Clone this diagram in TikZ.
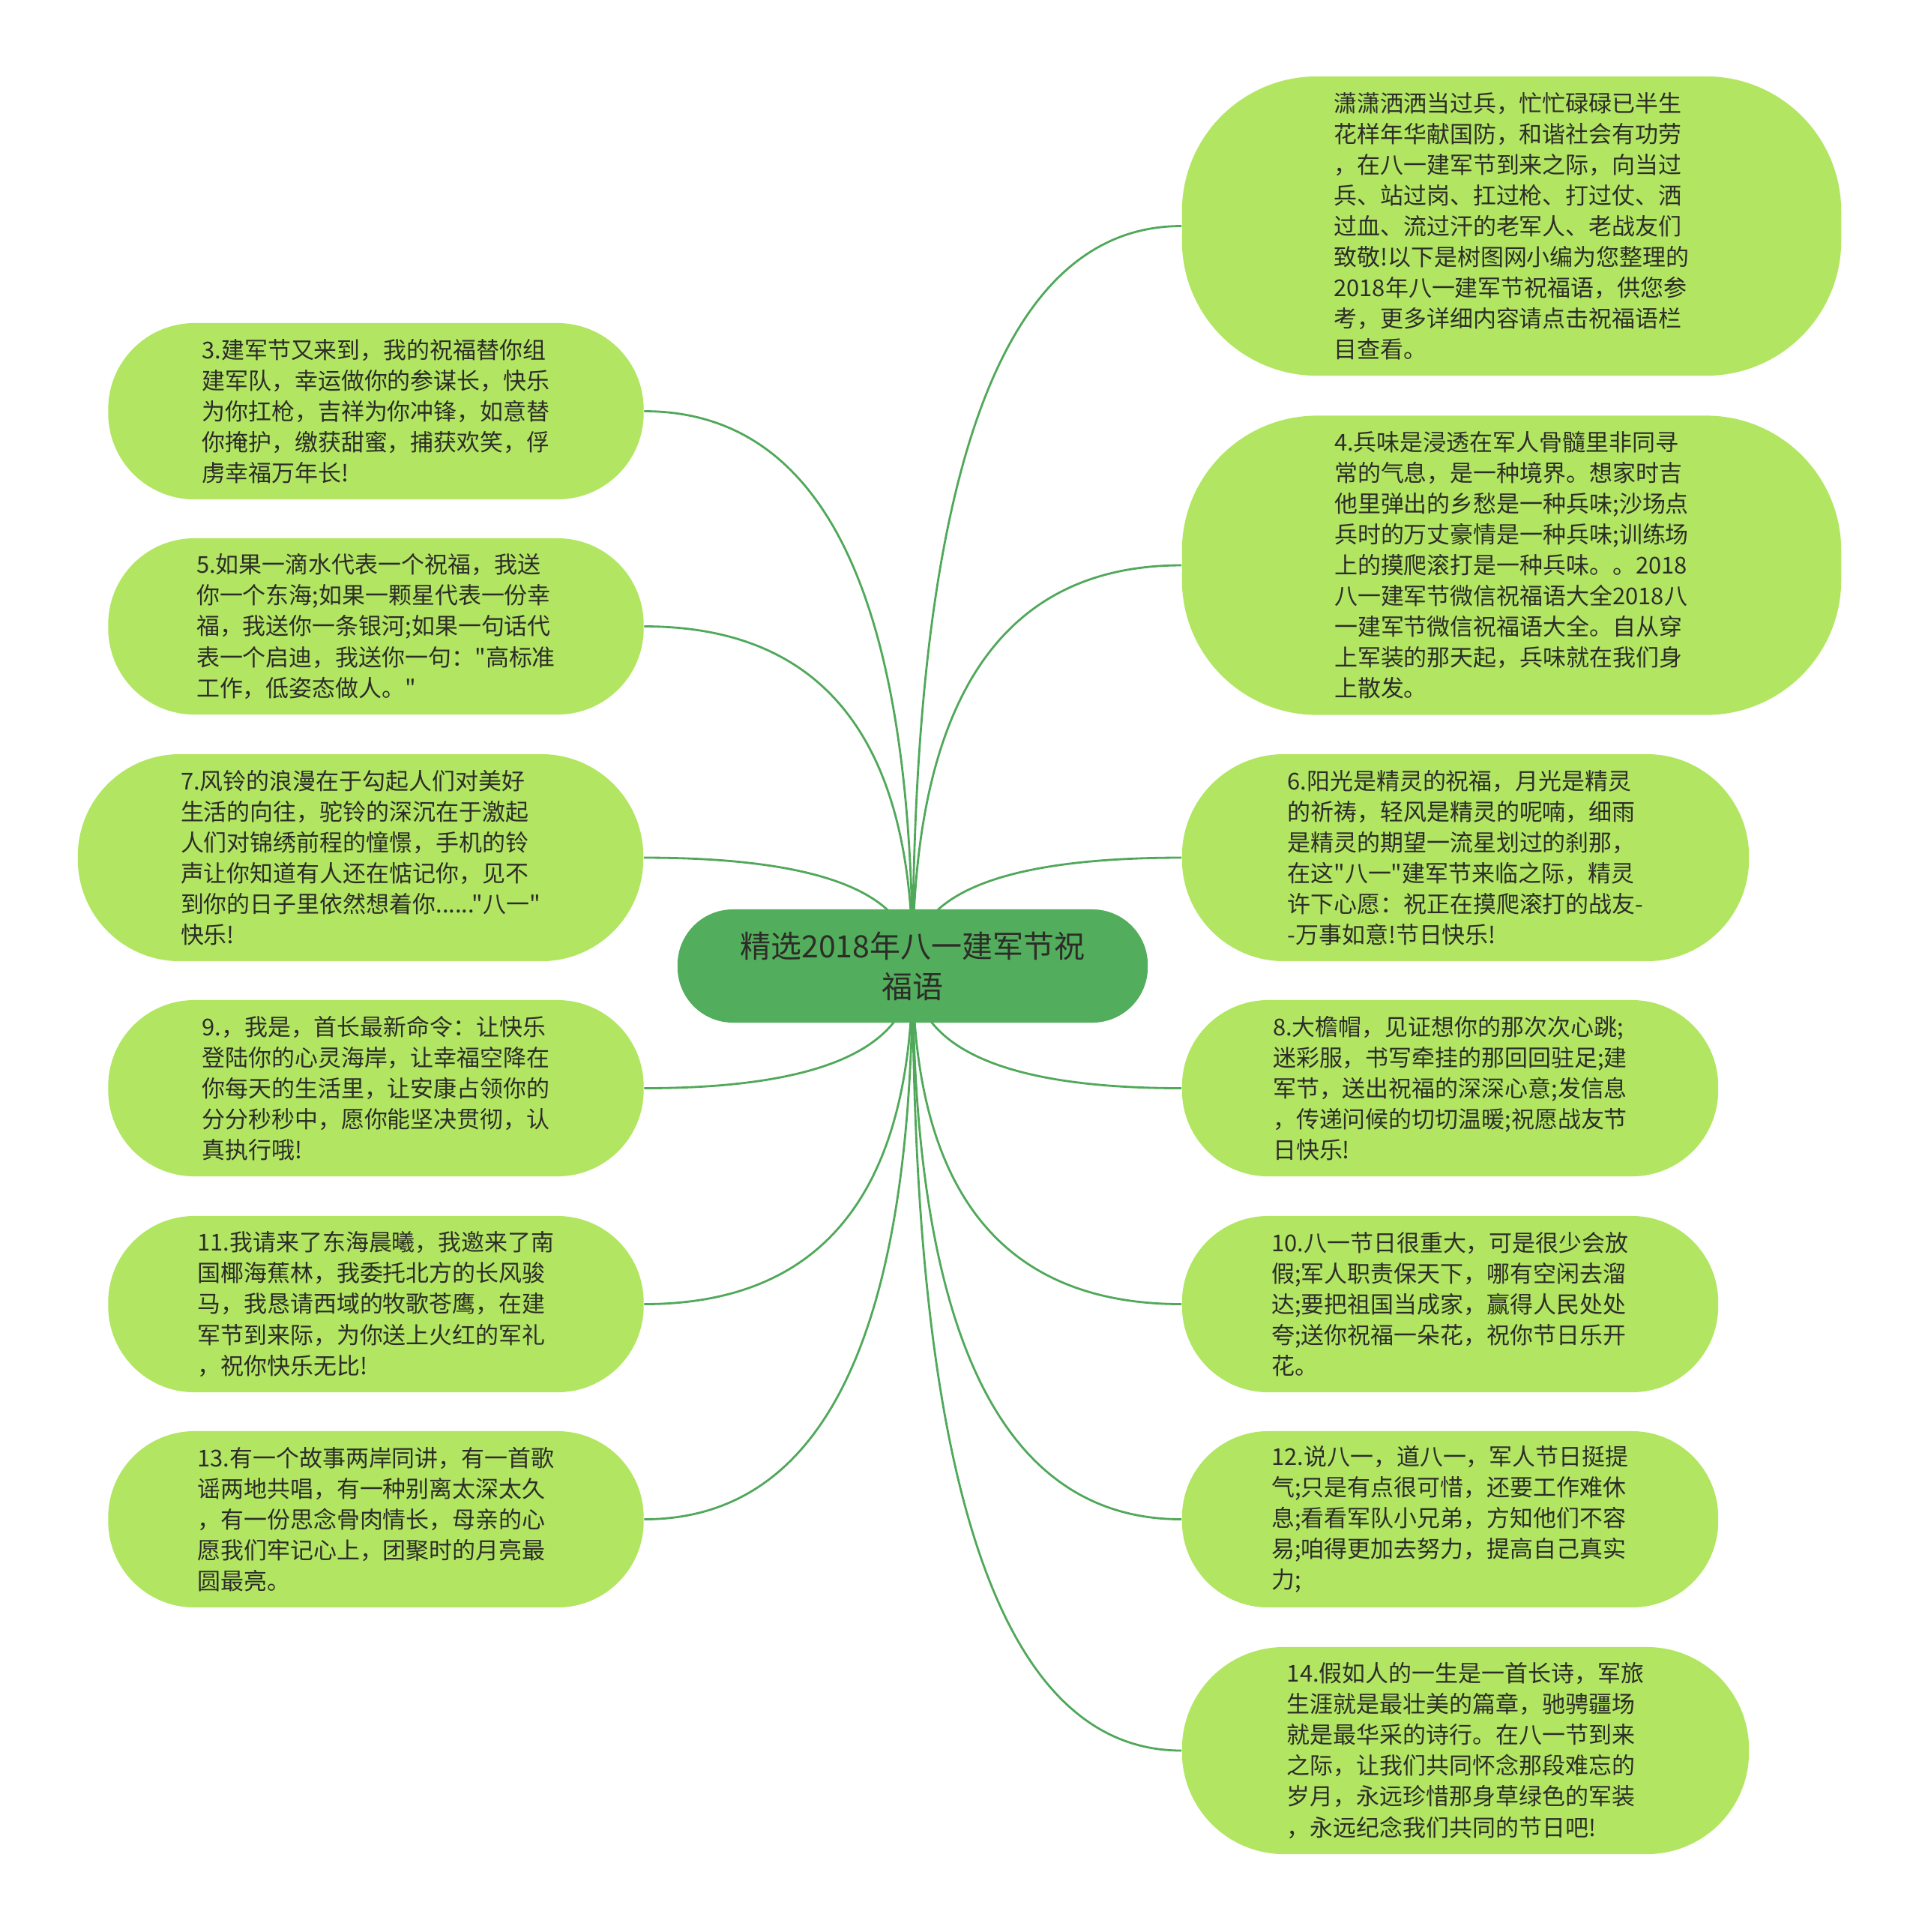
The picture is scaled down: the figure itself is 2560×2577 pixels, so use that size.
\documentclass[tikz,border=0pt]{standalone}
\usepackage{fontspec}
\newfontfamily\cjk{Noto Sans CJK SC}
\usetikzlibrary{calc,backgrounds}
\definecolor{leafgreen}{RGB}{178,230,98}
\definecolor{rootgreen}{RGB}{82,174,92}
\definecolor{linkgreen}{RGB}{80,168,90}
\definecolor{inkgray}{RGB}{45,45,40}

\begin{document}
\begin{tikzpicture}[
    x=0.01cm, y=-0.01cm,
    leaf/.style={rectangle, fill=leafgreen, rounded corners=1.15cm, minimum width=7.14cm, minimum height=2.35cm, inner sep=0pt, align=left, text=inkgray, font={\cjk\fontsize{8.8pt}{11.67pt}\selectfont}},
    tall/.style={minimum height=2.76cm, rounded corners=1.36cm},
    huge/.style={minimum width=8.79cm, minimum height=3.99cm, rounded corners=1.8cm},
    root/.style={rectangle, fill=rootgreen, rounded corners=0.74cm, minimum width=6.27cm, minimum height=1.51cm, inner sep=0pt, align=center, text=inkgray, font={\cjk\fontsize{11.66pt}{15.4pt}\selectfont}},
    link/.style={draw=linkgreen, line width=0.8pt}
]
    \useasboundingbox (0,0) rectangle (2560,2577);

    % --- Centre ---
    \node[root] (root) at (1217.5,1288.5) {精选2018年八一建军节祝\\福语};

    % --- Right side ---
    \node[leaf, huge] (msg0) at (2016.5,301.5) {潇潇洒洒当过兵，忙忙碌碌已半生\\花样年华献国防，和谐社会有功劳\\，在八一建军节到来之际，向当过\\兵、站过岗、扛过枪、打过仗、洒\\过血、流过汗的老军人、老战友们\\致敬!以下是树图网小编为您整理的\\2018年八一建军节祝福语，供您参\\考，更多详细内容请点击祝福语栏\\目查看。};
    \node[leaf, huge] (msg4) at (2016.5,754) {4.兵味是浸透在军人骨髓里非同寻\\常的气息，是一种境界。想家时吉\\他里弹出的乡愁是一种兵味;沙场点\\兵时的万丈豪情是一种兵味;训练场\\上的摸爬滚打是一种兵味。。2018\\八一建军节微信祝福语大全2018八\\一建军节微信祝福语大全。自从穿\\上军装的那天起，兵味就在我们身\\上散发。};
    \node[leaf, tall, minimum width=7.56cm] (msg6) at (1955,1144) {6.阳光是精灵的祝福，月光是精灵\\的祈祷，轻风是精灵的呢喃，细雨\\是精灵的期望一流星划过的刹那，\\在这"八一"建军节来临之际，精灵\\许下心愿：祝正在摸爬滚打的战友-\\-万事如意!节日快乐!};
    \node[leaf, minimum width=7.15cm] (msg8) at (1934.5,1451.5) {8.大檐帽，见证想你的那次次心跳;\\迷彩服，书写牵挂的那回回驻足;建\\军节，送出祝福的深深心意;发信息\\，传递问候的切切温暖;祝愿战友节\\日快乐!};
    \node[leaf, minimum width=7.15cm] (msg10) at (1934.5,1739.5) {10.八一节日很重大，可是很少会放\\假;军人职责保天下，哪有空闲去溜\\达;要把祖国当成家，赢得人民处处\\夸;送你祝福一朵花，祝你节日乐开\\花。};
    \node[leaf, minimum width=7.15cm] (msg12) at (1934.5,2026.5) {12.说八一，道八一，军人节日挺提\\气;只是有点很可惜，还要工作难休\\息;看看军队小兄弟，方知他们不容\\易;咱得更加去努力，提高自己真实\\力;};
    \node[leaf, tall, minimum width=7.56cm] (msg14) at (1955,2335) {14.假如人的一生是一首长诗，军旅\\生涯就是最壮美的篇章，驰骋疆场\\就是最华采的诗行。在八一节到来\\之际，让我们共同怀念那段难忘的\\岁月，永远珍惜那身草绿色的军装\\，永远纪念我们共同的节日吧!};

    % --- Left side ---
    \node[leaf] (msg3) at (501.5,548.5) {3.建军节又来到，我的祝福替你组\\建军队，幸运做你的参谋长，快乐\\为你扛枪，吉祥为你冲锋，如意替\\你掩护，缴获甜蜜，捕获欢笑，俘\\虏幸福万年长!};
    \node[leaf] (msg5) at (501.5,835.5) {5.如果一滴水代表一个祝福，我送\\你一个东海;如果一颗星代表一份幸\\福，我送你一条银河;如果一句话代\\表一个启迪，我送你一句："高标准\\工作，低姿态做人。"};
    \node[leaf, tall, minimum width=7.54cm] (msg7) at (481,1144) {7.风铃的浪漫在于勾起人们对美好\\生活的向往，驼铃的深沉在于激起\\人们对锦绣前程的憧憬，手机的铃\\声让你知道有人还在惦记你，见不\\到你的日子里依然想着你......"八一"\\快乐!};
    \node[leaf] (msg9) at (501.5,1451.5) {9.，我是，首长最新命令：让快乐\\登陆你的心灵海岸，让幸福空降在\\你每天的生活里，让安康占领你的\\分分秒秒中，愿你能坚决贯彻，认\\真执行哦!};
    \node[leaf] (msg11) at (501.5,1739.5) {11.我请来了东海晨曦，我邀来了南\\国椰海蕉林，我委托北方的长风骏\\马，我恳请西域的牧歌苍鹰，在建\\军节到来际，为你送上火红的军礼\\，祝你快乐无比!};
    \node[leaf] (msg13) at (501.5,2026.5) {13.有一个故事两岸同讲，有一首歌\\谣两地共唱，有一种别离太深太久\\，有一份思念骨肉情长，母亲的心\\愿我们牢记心上，团聚时的月亮最\\圆最亮。};

    % --- Links (behind the nodes) ---
    \begin{scope}[on background layer]
        \draw[link] (root.center) .. controls ($(root.center)!.667!(root.center |- msg0.west)$) and ($(msg0.west)!.667!(root.center |- msg0.west)$) .. (msg0.west);
        \draw[link] (root.center) .. controls ($(root.center)!.667!(root.center |- msg4.west)$) and ($(msg4.west)!.667!(root.center |- msg4.west)$) .. (msg4.west);
        \draw[link] (root.center) .. controls ($(root.center)!.667!(root.center |- msg6.west)$) and ($(msg6.west)!.667!(root.center |- msg6.west)$) .. (msg6.west);
        \draw[link] (root.center) .. controls ($(root.center)!.667!(root.center |- msg8.west)$) and ($(msg8.west)!.667!(root.center |- msg8.west)$) .. (msg8.west);
        \draw[link] (root.center) .. controls ($(root.center)!.667!(root.center |- msg10.west)$) and ($(msg10.west)!.667!(root.center |- msg10.west)$) .. (msg10.west);
        \draw[link] (root.center) .. controls ($(root.center)!.667!(root.center |- msg12.west)$) and ($(msg12.west)!.667!(root.center |- msg12.west)$) .. (msg12.west);
        \draw[link] (root.center) .. controls ($(root.center)!.667!(root.center |- msg14.west)$) and ($(msg14.west)!.667!(root.center |- msg14.west)$) .. (msg14.west);
        \draw[link] (root.center) .. controls ($(root.center)!.667!(root.center |- msg3.east)$) and ($(msg3.east)!.667!(root.center |- msg3.east)$) .. (msg3.east);
        \draw[link] (root.center) .. controls ($(root.center)!.667!(root.center |- msg5.east)$) and ($(msg5.east)!.667!(root.center |- msg5.east)$) .. (msg5.east);
        \draw[link] (root.center) .. controls ($(root.center)!.667!(root.center |- msg7.east)$) and ($(msg7.east)!.667!(root.center |- msg7.east)$) .. (msg7.east);
        \draw[link] (root.center) .. controls ($(root.center)!.667!(root.center |- msg9.east)$) and ($(msg9.east)!.667!(root.center |- msg9.east)$) .. (msg9.east);
        \draw[link] (root.center) .. controls ($(root.center)!.667!(root.center |- msg11.east)$) and ($(msg11.east)!.667!(root.center |- msg11.east)$) .. (msg11.east);
        \draw[link] (root.center) .. controls ($(root.center)!.667!(root.center |- msg13.east)$) and ($(msg13.east)!.667!(root.center |- msg13.east)$) .. (msg13.east);
    \end{scope}

\end{tikzpicture}
\end{document}
